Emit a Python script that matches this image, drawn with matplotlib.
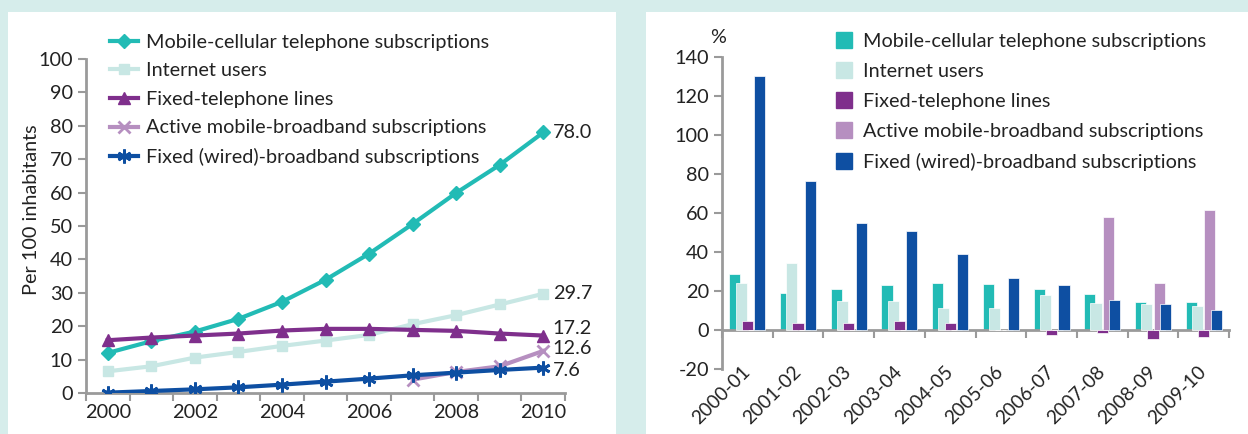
import numpy as np
import matplotlib.pyplot as plt
from matplotlib.patches import Rectangle
from matplotlib.lines import Line2D

plt.rcParams['font.family'] = ['Lato', 'DejaVu Sans']
plt.rcParams['axes.unicode_minus'] = False

# Left chart: per 100 inhabitants
years = [2000, 2001, 2002, 2003, 2004, 2005, 2006, 2007, 2008, 2009, 2010]
mobile = [12.0, 15.5, 18.4, 22.2, 27.3, 33.9, 41.7, 50.6, 59.9, 68.3, 78.0]
internet = [6.5, 8.0, 10.6, 12.3, 14.1, 15.7, 17.4, 20.6, 23.3, 26.5, 29.7]
fixed_tel = [15.8, 16.6, 17.2, 17.8, 18.7, 19.2, 19.2, 18.9, 18.6, 17.8, 17.2]
mbb_years = [2007, 2008, 2009, 2010]
mobile_bb = [4.0, 6.3, 8.0, 12.6]
fixed_bb = [0.1, 0.6, 1.1, 1.7, 2.5, 3.4, 4.3, 5.3, 6.1, 6.9, 7.6]

# Right chart: annual growth, %
periods = ['2000-01', '2001-02', '2002-03', '2003-04', '2004-05',
           '2005-06', '2006-07', '2007-08', '2008-09', '2009-10']
g_mobile = [28.5, 18.8, 20.9, 22.9, 24.1, 23.4, 21.0, 18.5, 14.2, 14.4]
g_internet = [24.1, 34.5, 14.9, 14.9, 11.5, 11.5, 17.9, 13.7, 13.3, 12.3]
g_fixed_tel = [4.6, 3.6, 3.6, 4.6, 3.4, 0.0, -2.6, -1.4, -4.8, -3.8]
g_mobile_bb = [0, 0, 0, 0, 0, 0, 0, 57.8, 23.9, 61.7]
g_fixed_bb = [130.3, 76.2, 55.0, 50.6, 39.0, 26.5, 23.2, 15.2, 13.3, 10.3]

labels = ['Mobile-cellular telephone subscriptions', 'Internet users',
          'Fixed-telephone lines', 'Active mobile-broadband subscriptions',
          'Fixed (wired)-broadband subscriptions']
colors = ['#22bbb5', '#c8e7e4', '#7f2f8c', '#b68fc0', '#0e4fa2']
markers = ['D', 's', '^', 'x', (6, 2, 0)]

bg = '#d6edeb'
axis_gray = '#9a9a9a'
text_col = '#222222'

fig = plt.figure(figsize=(12.48, 4.34), dpi=100, facecolor=bg)
W, H = 1248, 434
fig.patches.append(Rectangle((8 / W, 0), 608 / W, 1 - 12 / H, transform=fig.transFigure,
                             facecolor='white', edgecolor='none', zorder=-10))
fig.patches.append(Rectangle((646 / W, 0), 602 / W, 1 - 12 / H, transform=fig.transFigure,
                             facecolor='white', edgecolor='none', zorder=-10))

fs = 14.3

# ---------- left: line chart ----------
ax1 = fig.add_axes([86 / W, 1 - 393 / H, 479 / W, 334 / H])
ax1.set_facecolor('none')
x = np.arange(len(years))
xm = np.array([years.index(y) for y in mbb_years])
series = [mobile, internet, fixed_tel, None, fixed_bb]
sizes = [7, 7, 8, 8, 10]
handles = []
for i in range(5):
    if i == 3:
        xs, ys = xm, mobile_bb
    else:
        xs, ys = x, series[i]
    mew = 2 if i in (3, 4) else 1
    ax1.plot(xs, ys, color=colors[i], lw=3, marker=markers[i], ms=sizes[i],
             mew=mew, zorder=3 + (i == 4))
    handles.append(Line2D([], [], color=colors[i], lw=3, marker=markers[i],
                          ms=sizes[i], mew=mew))

ax1.set_xlim(-0.5, len(years) - 0.5)
ax1.set_ylim(0, 100)
ax1.set_yticks(np.arange(0, 101, 10))
ax1.set_xticks(np.arange(-0.5, len(years), 1), minor=True)
ax1.set_xticks(x[::2])
ax1.set_xticklabels([str(y) for y in years[::2]])
ax1.tick_params(axis='x', which='major', length=0, pad=8)
ax1.tick_params(axis='x', which='minor', length=6, width=1.5, color=axis_gray, direction='out')
ax1.tick_params(axis='y', length=6, width=1.5, color=axis_gray, direction='out')
ax1.tick_params(labelsize=fs, labelcolor=text_col)
for s in ['top', 'right']:
    ax1.spines[s].set_visible(False)
for s in ['left', 'bottom']:
    ax1.spines[s].set_color(axis_gray)
    ax1.spines[s].set_linewidth(2)
ax1.set_ylabel('Per 100 inhabitants', fontsize=fs, color=text_col)
ax1.yaxis.set_label_coords(-0.096, 0.548)

end_vals = [mobile[-1], internet[-1], fixed_tel[-1], mobile_bb[-1], fixed_bb[-1]]
end_pos = [78.0, 29.7, 19.4, 13.2, 6.6]
for v, yp in zip(end_vals, end_pos):
    ax1.text(len(years) - 1 + 0.22, yp, f'{v:.1f}', fontsize=fs, color=text_col,
             va='center', ha='left', clip_on=False)

ax1.legend(handles, labels, loc='upper left', bbox_to_anchor=(100 / W, 1 - 24 / H),
           bbox_transform=fig.transFigure, frameon=False, fontsize=fs,
           handlelength=1.4, handletextpad=0.4, labelspacing=0.58, borderpad=0,
           labelcolor=text_col)

# ---------- right: bar chart ----------
ax2 = fig.add_axes([722 / W, 1 - 369 / H, 507 / W, 312 / H])
ax2.set_facecolor('none')
ax2.spines['bottom'].set_position(('data', 0))
xc = np.arange(len(periods))
gseries = [g_mobile, g_internet, g_fixed_tel, g_mobile_bb, g_fixed_bb]
bw = 0.22
step = 0.123
bar_handles = []
for i, vals in enumerate(gseries):
    ax2.bar(xc + (i - 2) * step, vals, width=bw, color=colors[i],
            edgecolor='white', linewidth=0.5, zorder=2 + i)
    bar_handles.append(Line2D([], [], color=colors[i], marker='s', ms=11, lw=0))

ax2.set_xlim(-0.5, len(periods) - 0.5)
ax2.set_ylim(-20, 140)
ax2.set_yticks(np.arange(-20, 141, 20))
ax2.set_xticks(xc)
ax2.set_xticklabels(periods, rotation=45, ha='right', va='center', rotation_mode='anchor',
                    fontsize=13.8, color=text_col)
ax2.set_xticks(np.arange(-0.5, len(periods), 1), minor=True)
ax2.tick_params(axis='x', which='major', length=0, pad=28)
ax2.tick_params(axis='x', which='minor', length=6, width=1.5, color=axis_gray, direction='out')
ax2.tick_params(axis='y', length=6, width=1.5, color=axis_gray, direction='out',
                labelsize=fs, labelcolor=text_col)
for s in ['top', 'right']:
    ax2.spines[s].set_visible(False)
for s in ['left', 'bottom']:
    ax2.spines[s].set_color(axis_gray)
    ax2.spines[s].set_linewidth(2)
ax2.text(-0.008, 1.064, '%', transform=ax2.transAxes, fontsize=fs, color=text_col,
         ha='center', va='center')

ax2.legend(bar_handles, labels, loc='upper left', bbox_to_anchor=(824 / W, 1 - 23 / H),
           bbox_transform=fig.transFigure, frameon=False, fontsize=fs,
           handlelength=1.0, handletextpad=0.45, labelspacing=0.65, borderpad=0,
           labelcolor=text_col)

fig.savefig('out.png', dpi=100, facecolor=bg)
